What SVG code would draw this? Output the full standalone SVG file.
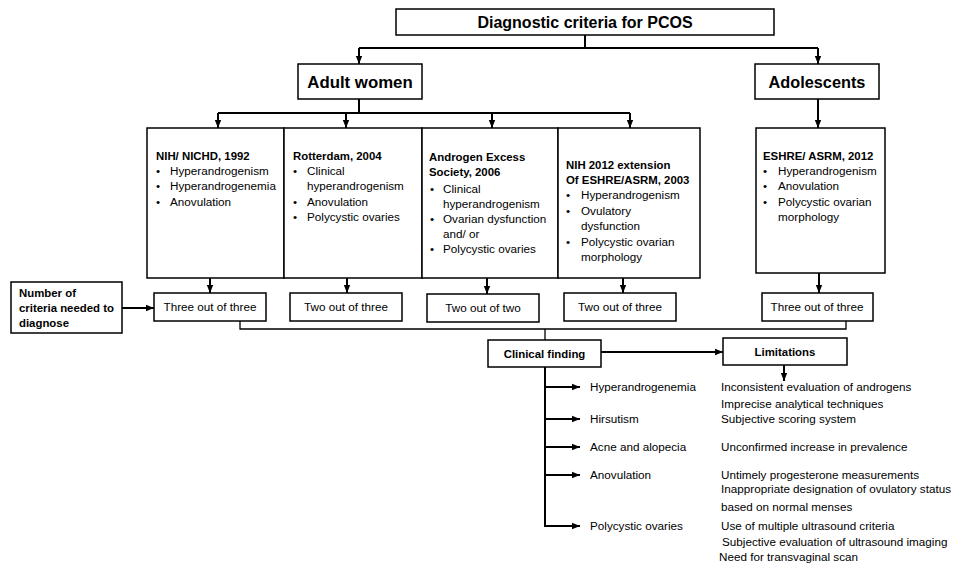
<svg xmlns="http://www.w3.org/2000/svg" width="956" height="563" viewBox="0 0 956 563">
<defs>
<marker id="ah" markerUnits="userSpaceOnUse" markerWidth="8" markerHeight="8" viewBox="0 0 8 8" refX="8" refY="4" orient="auto">
<path d="M0,0.8 L8,4 L0,7.2 z" fill="#000"/>
</marker>
<style>
text{font-family:"Liberation Sans",Arial,sans-serif;fill:#000}
.r{font-size:11.7px}
.b{font-size:11.4px;font-weight:bold}
.c{text-anchor:middle}
.box{fill:#fff;stroke:#000;stroke-width:1.5}
.ln{fill:none;stroke:#000;stroke-width:2}
.th{fill:none;stroke:#000;stroke-width:1.3}
.ar{marker-end:url(#ah)}
</style>
</defs>
<rect width="956" height="563" fill="#fff"/>
<g id="connectors">
<path class="ln" d="M585,35 V48 M359,48 H818"/>
<path class="ln ar" d="M359,48 V64"/>
<path class="ln ar" d="M818,48 V64"/>
<path class="ln" d="M359,99 V113 M218,113 H630"/>
<path class="ln ar" d="M218,113 V128"/>
<path class="ln ar" d="M346,113 V128"/>
<path class="ln ar" d="M492,113 V128"/>
<path class="ln ar" d="M630,113 V128"/>
<path class="ln ar" d="M818,99 V128"/>
<path class="ln ar" d="M210,278 V293"/>
<path class="ln ar" d="M347,278 V293"/>
<path class="ln ar" d="M487,278 V294"/>
<path class="ln ar" d="M623,278 V293"/>
<path class="ln ar" d="M819,273 V293"/>
<path class="ln ar" d="M122,308 H154"/>
<path class="th" d="M240,321 V329 H846 V321"/>
<path class="th" d="M545,329 V340"/>
<path class="ln ar" d="M601,352 H723"/>
<path class="ln ar" d="M784,365 V381"/>
<path class="ln" d="M545,367 V526"/>
<path class="ln ar" d="M544,387 H580"/>
<path class="ln ar" d="M544,419 H580"/>
<path class="ln ar" d="M544,447 H580"/>
<path class="ln ar" d="M544,475 H580"/>
<path class="ln ar" d="M544,526 H580"/>
</g>
<g id="title">
<rect class="box" x="396" y="9" width="378" height="26"/>
<text x="585" y="27.5" class="c" style="font-size:16px;font-weight:bold">Diagnostic criteria for PCOS</text>
</g>
<g id="adult">
<rect class="box" x="298" y="64" width="124" height="35"/>
<text x="360" y="87.5" class="c" style="font-size:16.8px;font-weight:bold">Adult women</text>
</g>
<g id="adolescents">
<rect class="box" x="755" y="64" width="124" height="35"/>
<text x="817" y="87.5" class="c" style="font-size:16.3px;font-weight:bold">Adolescents</text>
</g>
<g id="nih1992">
<rect class="box" x="147" y="128" width="137" height="150"/>
<text x="156" y="160" class="b">NIH/ NICHD, 1992</text>
<text class="r"><tspan x="156" y="175">•</tspan><tspan x="170" y="175">Hyperandrogenism</tspan><tspan x="156" y="190">•</tspan><tspan x="170" y="190">Hyperandrogenemia</tspan><tspan x="156" y="206">•</tspan><tspan x="170" y="206">Anovulation</tspan></text>
</g>
<g id="rotterdam">
<rect class="box" x="284" y="128" width="138" height="150"/>
<text x="293" y="160" class="b">Rotterdam, 2004</text>
<text class="r"><tspan x="293" y="175">•</tspan><tspan x="307" y="175">Clinical</tspan><tspan x="307" y="190">hyperandrogenism</tspan><tspan x="293" y="206">•</tspan><tspan x="307" y="206">Anovulation</tspan><tspan x="293" y="221">•</tspan><tspan x="307" y="221">Polycystic ovaries</tspan></text>
</g>
<g id="aes">
<rect class="box" x="422" y="128" width="136" height="150"/>
<text class="b"><tspan x="429" y="161">Androgen Excess</tspan><tspan x="429" y="176">Society, 2006</tspan></text>
<text class="r"><tspan x="430" y="193">•</tspan><tspan x="443" y="193">Clinical</tspan><tspan x="443" y="208">hyperandrogenism</tspan><tspan x="430" y="223">•</tspan><tspan x="443" y="223">Ovarian dysfunction</tspan><tspan x="443" y="238">and/ or</tspan><tspan x="430" y="253">•</tspan><tspan x="443" y="253">Polycystic ovaries</tspan></text>
</g>
<g id="nih2012">
<rect class="box" x="558" y="128" width="142" height="150"/>
<text class="b"><tspan x="566" y="169">NIH 2012 extension</tspan><tspan x="566" y="184">Of ESHRE/ASRM, 2003</tspan></text>
<text class="r"><tspan x="566" y="199">•</tspan><tspan x="581" y="199">Hyperandrogenism</tspan><tspan x="566" y="215">•</tspan><tspan x="581" y="215">Ovulatory</tspan><tspan x="581" y="230">dysfunction</tspan><tspan x="566" y="246">•</tspan><tspan x="581" y="246">Polycystic ovarian</tspan><tspan x="581" y="261">morphology</tspan></text>
</g>
<g id="eshre2012">
<rect class="box" x="756" y="128" width="129" height="145"/>
<text x="763" y="160" class="b">ESHRE/ ASRM, 2012</text>
<text class="r"><tspan x="763" y="175">•</tspan><tspan x="778" y="175">Hyperandrogenism</tspan><tspan x="763" y="190">•</tspan><tspan x="778" y="190">Anovulation</tspan><tspan x="763" y="206">•</tspan><tspan x="778" y="206">Polycystic ovarian</tspan><tspan x="778" y="221">morphology</tspan></text>
</g>
<g id="number">
<rect class="box" x="11" y="282" width="111" height="51"/>
<text class="b"><tspan x="19" y="297">Number of</tspan><tspan x="19" y="312">criteria needed to</tspan><tspan x="19" y="327">diagnose</tspan></text>
</g>
<g id="n1">
<rect class="box" x="154" y="293" width="112" height="28"/>
<text x="210" y="311" class="r c">Three out of three</text>
</g>
<g id="n2">
<rect class="box" x="290" y="293" width="112" height="28"/>
<text x="346" y="311" class="r c">Two out of three</text>
</g>
<g id="n3">
<rect class="box" x="427" y="294" width="112" height="28"/>
<text x="483" y="312" class="r c">Two out of two</text>
</g>
<g id="n4">
<rect class="box" x="564" y="293" width="112" height="28"/>
<text x="620" y="311" class="r c">Two out of three</text>
</g>
<g id="n5">
<rect class="box" x="762" y="293" width="111" height="28"/>
<text x="817" y="311" class="r c">Three out of three</text>
</g>
<g id="clinical">
<rect class="box" x="488" y="340" width="113" height="27"/>
<text x="544.5" y="357.5" class="b c">Clinical finding</text>
</g>
<g id="limitations">
<rect class="box" x="723" y="338" width="124" height="27"/>
<text x="785" y="355.5" class="b c">Limitations</text>
</g>
<g id="findings">
<text class="r"><tspan x="590" y="391">Hyperandrogenemia</tspan><tspan x="590" y="423">Hirsutism</tspan><tspan x="590" y="451">Acne and alopecia</tspan><tspan x="590" y="479">Anovulation</tspan><tspan x="590" y="530">Polycystic ovaries</tspan></text>
</g>
<g id="limits">
<text class="r"><tspan x="721" y="391">Inconsistent evaluation of androgens</tspan><tspan x="721" y="408">Imprecise analytical techniques</tspan><tspan x="721" y="423">Subjective scoring system</tspan><tspan x="721" y="451">Unconfirmed increase in prevalence</tspan><tspan x="721" y="479">Untimely progesterone measurements</tspan><tspan x="721" y="493">Inappropriate designation of ovulatory status</tspan><tspan x="721" y="511">based on normal menses</tspan><tspan x="721" y="530">Use of multiple ultrasound criteria</tspan><tspan x="722" y="546">Subjective evaluation of ultrasound imaging</tspan><tspan x="719" y="561">Need for transvaginal scan</tspan></text>
</g>
</svg>
